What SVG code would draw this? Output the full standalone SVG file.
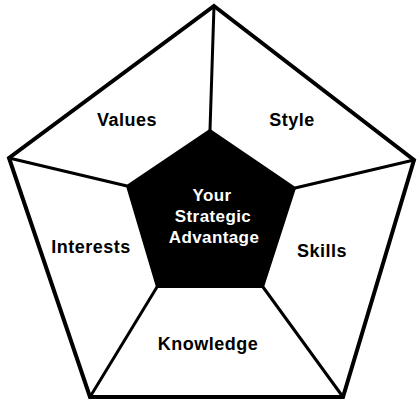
<svg xmlns="http://www.w3.org/2000/svg" width="419" height="402" viewBox="0 0 419 402">
<style>
.lbl{font-family:"Liberation Sans",Arial,sans-serif;font-weight:bold;font-size:18px;letter-spacing:0.5px;fill:#000;text-anchor:middle}
.ctr{font-family:"Liberation Sans",Arial,sans-serif;font-weight:bold;font-size:17px;letter-spacing:0.4px;fill:#fff;text-anchor:middle}
.edge{stroke:#000;stroke-width:3;fill:none;stroke-linecap:round}
</style>
<rect width="419" height="402" fill="#fff"/>
<g id="outer">
<polygon points="214,6 414,160 343,397 90,397 9,158" fill="#fff" stroke="#000" stroke-width="4" stroke-linejoin="miter"/>
</g>
<g id="connectors">
<line class="edge" x1="214" y1="6" x2="210" y2="130"/>
<line class="edge" x1="9" y1="158" x2="127" y2="186"/>
<line class="edge" x1="414" y1="160" x2="295" y2="188"/>
<line class="edge" x1="90" y1="397" x2="157" y2="287"/>
<line class="edge" x1="343" y1="397" x2="263" y2="287"/>
</g>
<g id="center">
<polygon points="210,130 295,188 263,287 157,287 127,186" fill="#000" stroke="#000" stroke-width="2"/>
<text class="ctr" x="212" y="201">Your</text>
<text class="ctr" x="213" y="222">Strategic</text>
<text class="ctr" x="214" y="243">Advantage</text>
</g>
<g id="values"><text class="lbl" x="127" y="126">Values</text></g>
<g id="style"><text class="lbl" x="292" y="126">Style</text></g>
<g id="interests"><text class="lbl" x="91" y="253">Interests</text></g>
<g id="skills"><text class="lbl" x="322" y="257">Skills</text></g>
<g id="knowledge"><text class="lbl" x="208" y="350">Knowledge</text></g>
</svg>
